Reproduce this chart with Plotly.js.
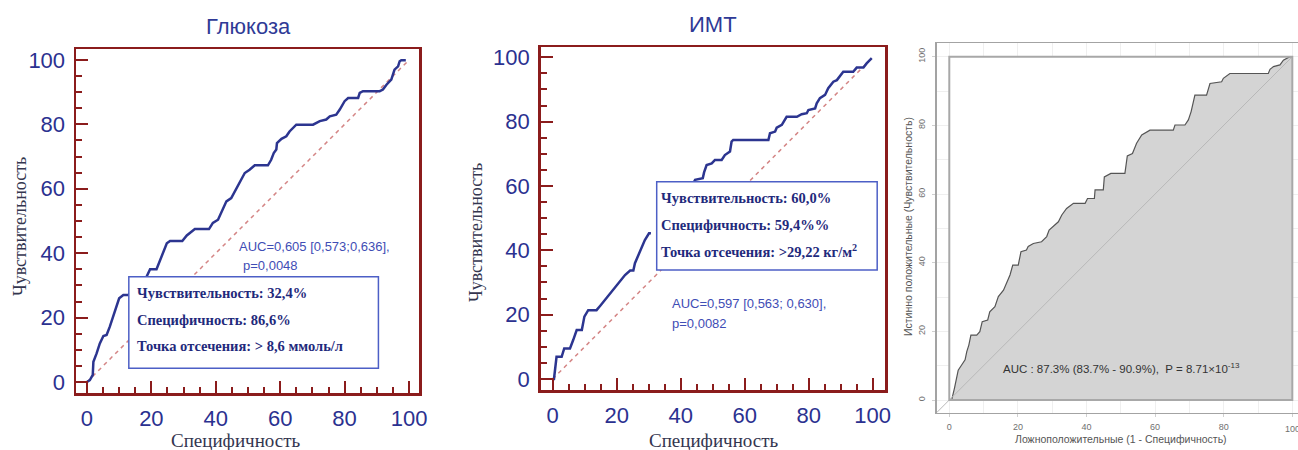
<!DOCTYPE html>
<html>
<head>
<meta charset="utf-8">
<script src="https://cdn.plot.ly/plotly-3.0.1.min.js"></script>
<style>html,body{margin:0;padding:0;background:#fff;}#chart{width:1298px;height:450px;}</style>
</head>
<body>
<div id="chart"></div>
<script>
// ---------- DATA ----------
const tickValues = [0, 20, 40, 60, 80, 100];
const tickLabels = ['0', '20', '40', '60', '80', '100'];
const diagX = [0, 100];
const diagY = [0, 100];

// Panel 1: Глюкоза
const glucoseX = [0, 0.9, 1.8, 2.0, 3.0, 4.0, 5.1, 6.1, 7.1, 8.2, 9.2, 10.0, 11.3, 12.8, 18.5, 19.6, 21.6, 22.7, 23.7, 24.8, 25.8, 29.6, 31.0, 32.4, 33.5, 37.9, 39.1, 40.7, 42.2, 43.3, 44.8, 45.9, 46.9, 47.9, 49.0, 50.5, 52.1, 56.2, 57.2, 58.0, 58.8, 59.0, 60.4, 61.9, 62.9, 65.0, 70.2, 72.3, 74.3, 75.4, 77.4, 78.5, 80.0, 81.1, 84.2, 84.7, 85.7, 90.9, 91.9, 93.0, 94.5, 95.5, 96.6, 97.1, 97.6, 99.0];
const glucoseY = [0, 0.6, 2.2, 6.3, 8.9, 12.0, 14.3, 14.6, 17.2, 20.3, 23.4, 26.0, 27.0, 27.0, 32.7, 35.0, 35.0, 37.9, 40.5, 43.1, 43.8, 43.8, 45.5, 46.8, 47.5, 47.5, 49.4, 50.4, 53.5, 56.1, 57.1, 59.2, 60.8, 62.8, 64.9, 65.9, 67.3, 67.3, 69.0, 71.1, 72.2, 74.2, 75.5, 76.3, 77.8, 79.9, 79.9, 81.0, 81.5, 82.5, 83.0, 84.6, 87.2, 88.2, 88.2, 89.8, 90.3, 90.3, 90.8, 92.3, 93.9, 97.0, 98.0, 99.6, 99.9, 99.9];

// Panel 2: ИМТ (curve is broken in the original picture -> null gap)
const bmiX = [0, 0.4, 1.2, 2.8, 3.6, 5.4, 6.4, 7.5, 9.1, 9.9, 11.1, 13.7, 14.8, 16.3, 17.9, 19.5, 21.0, 22.6, 24.2, 25.2, 25.7, 26.8, 27.8, 28.8, 30.1, 30.7, null,
  44.0, 44.5, 46.9, 47.3, 48.1, 49.7, 50.7, 52.8, 53.8, 55.4, 55.9, 56.4, 67.4, 67.9, 69.5, 70.0, 71.6, 72.6, 73.1, 76.3, 77.8, 79.4, 79.9, 82.0, 82.5, 83.5, 85.1, 86.1, 87.7, 88.8, 90.8, 93.9, 95.0, 97.1, 98.1, 99.7];
const bmiY = [0, 0, 6.9, 6.9, 9.5, 9.5, 12.1, 15.2, 15.2, 19.4, 21.4, 21.4, 22.7, 24.6, 26.6, 28.5, 30.3, 32.3, 33.7, 33.7, 36.0, 38.5, 41.1, 43.2, 45.3, 45.3, null,
  61.0, 61.9, 62.4, 64.2, 66.5, 67.0, 68.1, 68.1, 69.6, 70.7, 73.8, 74.3, 74.3, 76.4, 76.9, 78.1, 79.0, 80.5, 81.5, 81.5, 82.3, 82.6, 83.6, 84.1, 85.7, 87.3, 88.3, 90.4, 92.4, 92.9, 95.5, 95.5, 96.8, 96.8, 98.1, 99.7];

// Panel 3: third ROC curve
const rocX = [0, 0.7, 1.5, 2.1, 2.6, 3.6, 4.6, 5.1, 5.7, 6.3, 8.0, 8.9, 9.6, 11.2, 11.8, 13.3, 14.3, 15.8, 16.7, 17.7, 18.5, 20.1, 20.9, 22.5, 23.0, 24.5, 26.9, 28.4, 29.1, 30.3, 31.8, 32.8, 34.2, 36.2, 39.6, 40.3, 42.3, 42.5, 44.9, 45.2, 47.1, 51.2, 51.9, 53.4, 54.6, 56.1, 58.5, 65.3, 65.8, 68.7, 69.7, 70.5, 71.6, 75.0, 76.0, 79.4, 79.9, 81.8, 93.0, 93.5, 94.5, 96.4, 97.4, 99.3, 100];
const rocY = [0, 0, 3.4, 6.3, 8.7, 10.2, 11.7, 14.1, 16.0, 18.9, 18.9, 19.9, 22.8, 23.3, 25.7, 27.2, 30.1, 32.0, 34.0, 36.4, 39.3, 39.3, 43.2, 43.7, 44.7, 45.6, 46.1, 47.6, 49.5, 50.5, 51.9, 53.9, 55.8, 57.3, 57.3, 58.7, 58.7, 61.2, 61.2, 65.0, 66.0, 66.0, 71.1, 71.8, 74.8, 77.2, 78.6, 78.6, 80.1, 80.1, 81.6, 84.0, 88.8, 88.8, 92.2, 92.7, 93.7, 95.1, 95.1, 96.3, 97.1, 97.6, 99.0, 100, 100];
const rocDiagX = [-3.7, 100];
const rocDiagY = [-3.7, 100];

// Texts
const panelTitles = ['Глюкоза', 'ИМТ'];
const yTitle = 'Чувствительность';
const xTitle = 'Специфичность';
const glucoseBox = ['Чувствительность: 32,4%', 'Специфичность: 86,6%', 'Точка отсечения: &gt; 8,6 ммоль/л'];
const bmiBox = ['Чувствительность: 60,0%', 'Специфичность: 59,4%%', 'Точка отсечения: &gt;29,22 кг/м<sup>2</sup>'];
const glucoseAuc = ['AUC=0,605 [0,573;0,636],', 'p=0,0048'];
const bmiAuc = ['AUC=0,597 [0,563; 0,630],', 'p=0,0082'];
const rocAuc = 'AUC : 87.3% (83.7% - 90.9%),  P = 8.71×10<sup>-13</sup>';
const rocYTitle = 'Истинно положительные (Чувствительность)';
const rocXTitle = 'Ложноположительные (1 - Специфичность)';
const rocEdgeLabel = '100';

// ---------- STYLE ----------
const W = 1298, H = 450;
const frameRed = '#8b1c1c';
const curveBlue = '#2c3590';
const tickBlue = '#2b3190';
const serifTitle = '#34364f';
const diagRed = '#d48585';

function px(x) { return x / W; }
function py(y) { return 1 - y / H; }

function redAxis(domain, range) {
  return {
    domain: domain, range: range, autorange: false, fixedrange: true,
    showline: true, mirror: true, linecolor: frameRed, linewidth: 2.5,
    showgrid: false, zeroline: false,
    tickmode: 'array', tickvals: tickValues, ticktext: tickLabels,
    ticks: 'inside', ticklen: 12, tickwidth: 2, tickcolor: frameRed,
    minor: { dtick: 5, tick0: 0, ticks: 'inside', ticklen: 6, tickwidth: 2, tickcolor: frameRed, showgrid: false },
    tickfont: { family: 'Liberation Sans, Arial, sans-serif', size: 22, color: tickBlue },
    ticklabelstandoff: 4
  };
}

const traces = [
  { x: diagX, y: diagY, xaxis: 'x', yaxis: 'y', mode: 'lines', line: { color: diagRed, width: 1.5, dash: '4px,4px' }, hoverinfo: 'skip' },
  { x: glucoseX, y: glucoseY, xaxis: 'x', yaxis: 'y', mode: 'lines', line: { color: curveBlue, width: 2.5 } },
  { x: diagX, y: diagY, xaxis: 'x2', yaxis: 'y2', mode: 'lines', line: { color: diagRed, width: 1.5, dash: '4px,4px' }, hoverinfo: 'skip' },
  { x: bmiX, y: bmiY, xaxis: 'x2', yaxis: 'y2', mode: 'lines', connectgaps: false, line: { color: curveBlue, width: 2.5 } },
  { x: rocX, y: rocY, xaxis: 'x3', yaxis: 'y3', mode: 'lines', fill: 'tozeroy', fillcolor: '#d4d4d4', line: { color: '#555555', width: 1.2 } },
  { x: rocDiagX, y: rocDiagY, xaxis: 'x3', yaxis: 'y3', mode: 'lines', line: { color: '#b8b8b8', width: 1 }, hoverinfo: 'skip' }
];

const xa1 = redAxis([px(76), px(419)], [-3.4, 103.1]);
const ya1 = redAxis([py(393), py(49)], [-3.4, 103.4]);
const xa2 = redAxis([px(540.7), px(885)], [-3.75, 103.84]);
const ya2 = redAxis([py(390), py(47.3)], [-3.42, 103.1]);
xa2.anchor = 'y2'; ya2.anchor = 'x2';
xa1.anchor = 'y'; ya1.anchor = 'x';

const greyAxisBase = {
  autorange: false, fixedrange: true,
  showline: true, mirror: true, linecolor: '#a3a3a3', linewidth: 1.5,
  showgrid: true, gridcolor: '#efefef', gridwidth: 1, zeroline: false,
  tickmode: 'array', tickvals: tickValues, ticktext: tickLabels,
  minor: { dtick: 10, tick0: 0, showgrid: true, gridcolor: '#efefef', ticks: '' },
  ticks: 'outside', ticklen: 3, tickcolor: '#d0d0d0',
  tickfont: { family: 'Liberation Sans, Arial, sans-serif', size: 9, color: '#707070' }
};
const xa3 = Object.assign({}, greyAxisBase, { domain: [px(936.7), 1], range: [-3.67, 101.66], anchor: 'y3', ticklabelstandoff: 2 });
const ya3 = Object.assign({}, greyAxisBase, { domain: [py(412.7), py(43.3)], range: [-3.7, 103.9], anchor: 'x3', tickangle: -90, ticklabelstandoff: 4 });

const serif = 'Liberation Serif, Times New Roman, serif';
const sans = 'Liberation Sans, Arial, sans-serif';

const annotations = [
  { xref: 'paper', yref: 'paper', x: px(248.5), y: py(26), text: panelTitles[0], showarrow: false, xanchor: 'center', yanchor: 'middle', font: { family: sans, size: 22, color: '#2f3a96' } },
  { xref: 'paper', yref: 'paper', x: px(713), y: py(24), text: panelTitles[1], showarrow: false, xanchor: 'center', yanchor: 'middle', font: { family: sans, size: 22, color: '#2f3a96' } },
  { xref: 'paper', yref: 'paper', x: px(20), y: py(227), text: yTitle, textangle: -90, showarrow: false, xanchor: 'center', yanchor: 'middle', font: { family: serif, size: 18, color: serifTitle } },
  { xref: 'paper', yref: 'paper', x: px(236), y: py(440), text: xTitle, showarrow: false, xanchor: 'center', yanchor: 'middle', font: { family: serif, size: 19, color: serifTitle } },
  { xref: 'paper', yref: 'paper', x: px(476), y: py(233), text: yTitle, textangle: -90, showarrow: false, xanchor: 'center', yanchor: 'middle', font: { family: serif, size: 18, color: serifTitle } },
  { xref: 'paper', yref: 'paper', x: px(714), y: py(440), text: xTitle, showarrow: false, xanchor: 'center', yanchor: 'middle', font: { family: serif, size: 19, color: serifTitle } },
  { xref: 'paper', yref: 'paper', x: px(908), y: py(227), text: rocYTitle, textangle: -90, showarrow: false, xanchor: 'center', yanchor: 'middle', font: { family: sans, size: 10.5, color: '#555555' } },
  { xref: 'paper', yref: 'paper', x: px(1121), y: py(439), text: rocXTitle, showarrow: false, xanchor: 'center', yanchor: 'middle', font: { family: sans, size: 10.5, color: '#555555' } },
  { xref: 'x3', yref: 'paper', x: 100, y: py(429), text: rocEdgeLabel, showarrow: false, xanchor: 'center', yanchor: 'middle', font: { family: sans, size: 9, color: '#707070' } },
  // AUC texts
  { xref: 'x', yref: 'y', x: 46.7, y: 42.2, text: glucoseAuc[0], showarrow: false, xanchor: 'left', yanchor: 'middle', font: { family: sans, size: 13, color: '#3f4db5' } },
  { xref: 'x', yref: 'y', x: 47.7, y: 36.3, text: glucoseAuc[1], showarrow: false, xanchor: 'left', yanchor: 'middle', font: { family: sans, size: 13, color: '#3f4db5' } },
  { xref: 'x2', yref: 'y2', x: 36.7, y: 23.5, text: bmiAuc[0], showarrow: false, xanchor: 'left', yanchor: 'middle', font: { family: sans, size: 13, color: '#3f4db5' } },
  { xref: 'x2', yref: 'y2', x: 36.7, y: 17.3, text: bmiAuc[1], showarrow: false, xanchor: 'left', yanchor: 'middle', font: { family: sans, size: 13, color: '#3f4db5' } },
  { xref: 'x3', yref: 'y3', x: 15.1, y: 9.2, text: rocAuc, showarrow: false, xanchor: 'left', yanchor: 'middle', font: { family: sans, size: 11.5, color: '#333333' } }
];
const glucoseLineY = [27.6, 19.3, 11.2];
glucoseBox.forEach((t, i) => annotations.push({ xref: 'x', yref: 'y', x: 14.9, y: glucoseLineY[i], text: '<b>' + t + '</b>', showarrow: false, xanchor: 'left', yanchor: 'middle', font: { family: serif, size: 14.5, color: '#1f2a7c' } }));
const bmiLineY = [56.2, 47.9, 39.9];
bmiBox.forEach((t, i) => annotations.push({ xref: 'x2', yref: 'y2', x: 33.2, y: bmiLineY[i], text: '<b>' + t + '</b>', showarrow: false, xanchor: 'left', yanchor: 'middle', font: { family: serif, size: 14.5, color: '#1f2a7c' } }));

const shapes = [
  { type: 'rect', xref: 'x', yref: 'y', x0: 13.0, x1: 90.5, y0: 4.3, y1: 32.7, fillcolor: '#ffffff', line: { color: '#4d5fc6', width: 1.5 }, layer: 'above' },
  { type: 'rect', xref: 'x2', yref: 'y2', x0: 32.5, x1: 101.4, y0: 33.9, y1: 61.3, fillcolor: '#ffffff', line: { color: '#4d5fc6', width: 1.5 }, layer: 'above' },
  { type: 'rect', xref: 'x3', yref: 'y3', x0: 0, x1: 100, y0: 0, y1: 100, fillcolor: '#ffffff', line: { width: 0 }, layer: 'between' },
  { type: 'rect', xref: 'x3', yref: 'y3', x0: 0, x1: 100, y0: 0, y1: 100, fillcolor: 'rgba(0,0,0,0)', line: { color: '#a8a8a8', width: 2 }, layer: 'above' }
];

const layout = {
  width: W, height: H, autosize: false,
  margin: { l: 0, r: 0, t: 0, b: 0, pad: 0 },
  paper_bgcolor: '#ffffff', plot_bgcolor: 'rgba(0,0,0,0)',
  showlegend: false,
  xaxis: xa1, yaxis: ya1, xaxis2: xa2, yaxis2: ya2, xaxis3: xa3, yaxis3: ya3,
  annotations: annotations, shapes: shapes
};

Plotly.newPlot('chart', traces, layout, { staticPlot: true, displayModeBar: false });
</script>
</body>
</html>
